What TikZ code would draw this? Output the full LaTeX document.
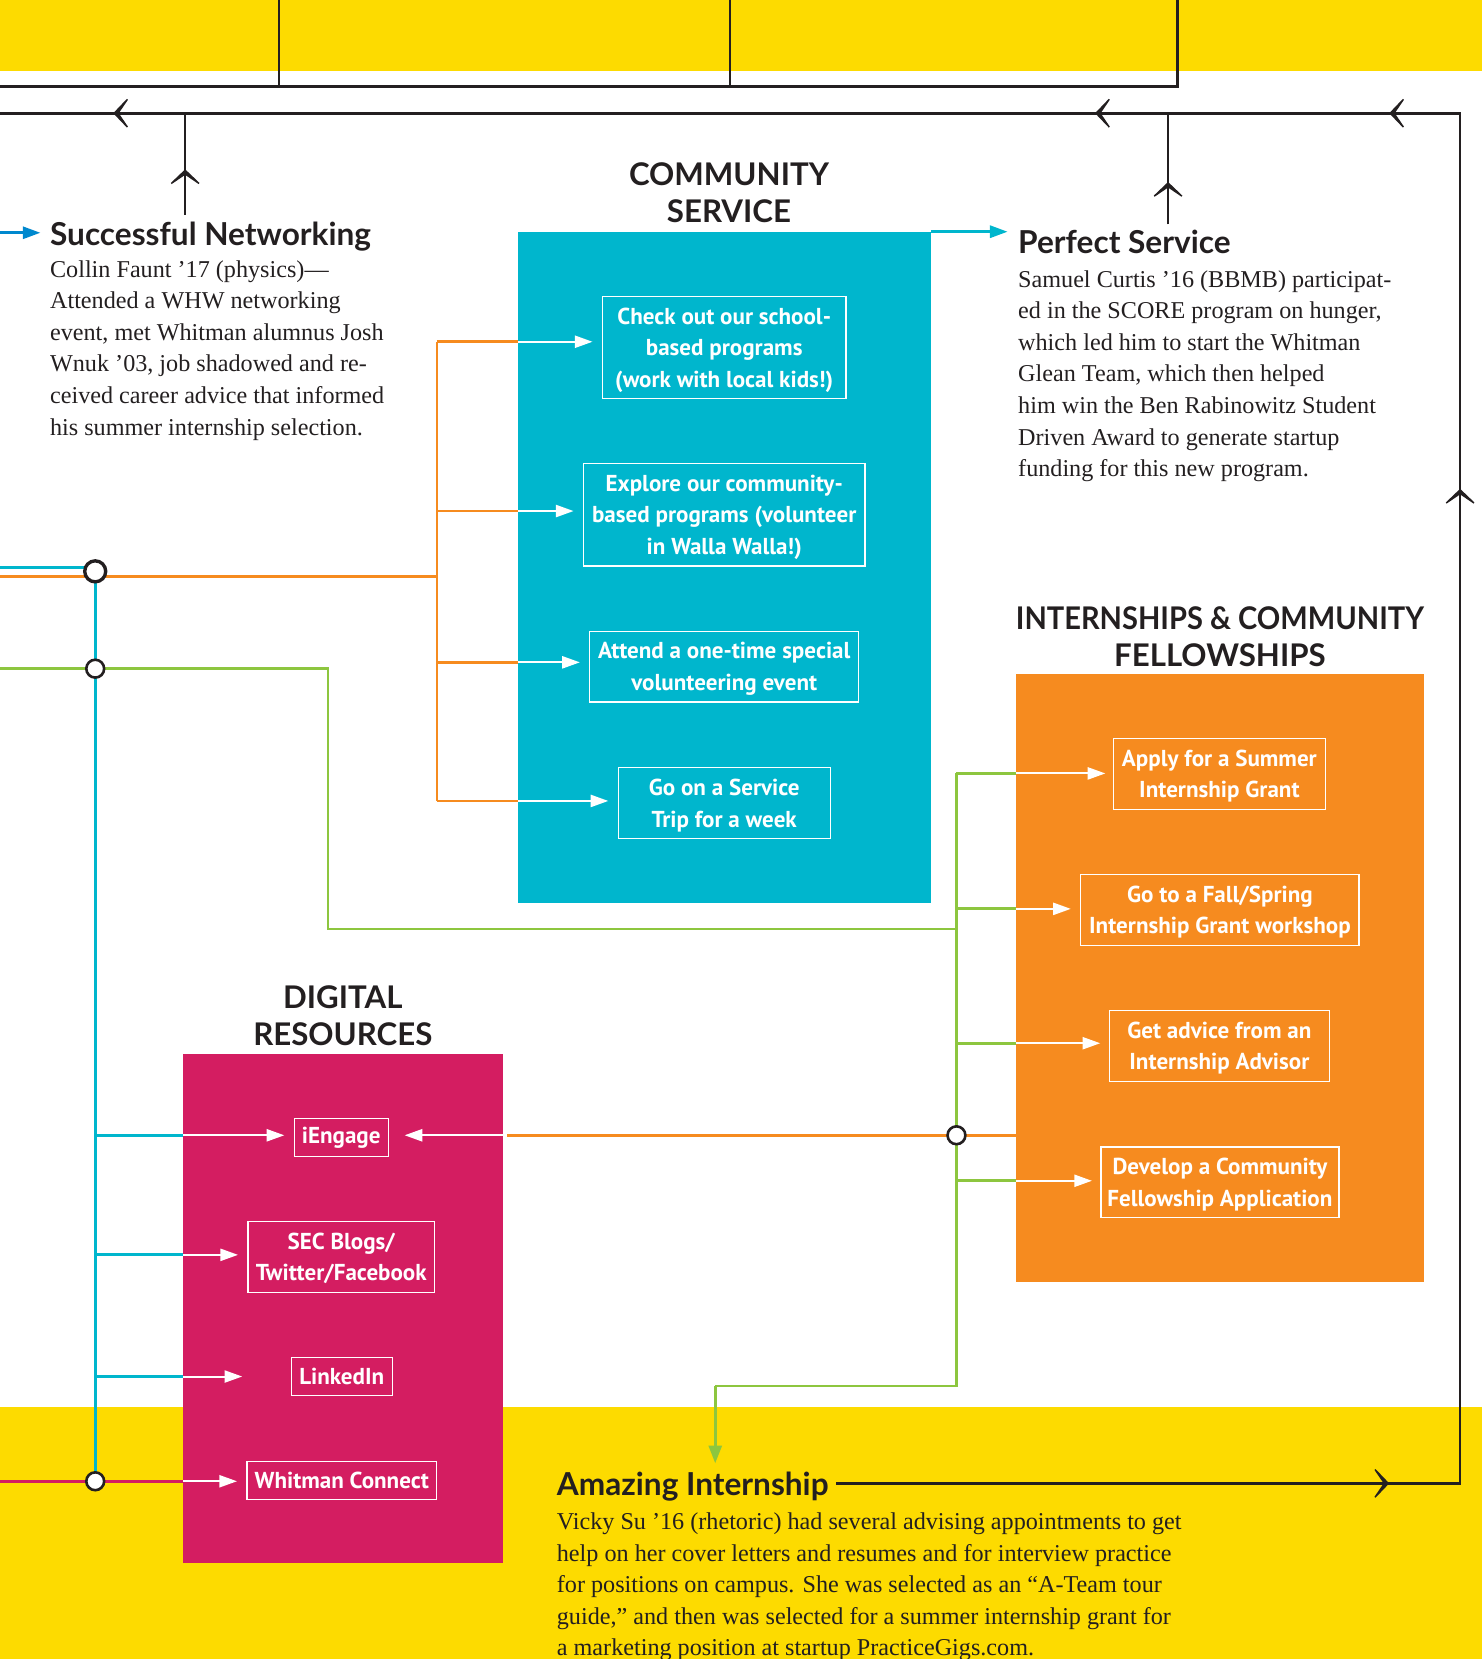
\documentclass[tikz,border=0pt]{standalone}
\usepackage{fontspec}
\usepackage{graphicx}
\setmainfont{Liberation Serif}
\newfontfamily\headsans{Lato}
\newfontfamily\itemsans{PT Sans}
\usetikzlibrary{arrows.meta,positioning}

\definecolor{ink}{HTML}{231F20}
\definecolor{sunny}{HTML}{FDDB00}
\definecolor{cservice}{HTML}{00B6CD}
\definecolor{intern}{HTML}{F68B1F}
\definecolor{digital}{HTML}{D41D61}
\definecolor{leaf}{HTML}{8DC63F}
\definecolor{netblue}{HTML}{0088CE}

\newcommand{\storyfont}{\fontsize{13pt}{17pt}\selectfont}
\newcommand{\storyheadfont}{\headsans\bfseries\fontsize{17pt}{20pt}\selectfont}
\newcommand{\panelheadfont}{\headsans\bfseries\fontsize{16.8pt}{19.8pt}\selectfont}
\newcommand{\itemfont}{\itemsans\bfseries\fontsize{12.4pt}{17pt}\selectfont}

\tikzset{
  item/.style     ={rectangle,draw=white,line width=0.7pt,text=white,font=\itemfont,
                    align=center,inner xsep=3pt,inner ysep=0pt},
  item1/.style    ={item,minimum height=20.4pt},
  item2/.style    ={item,minimum height=38pt,text depth=-1.9pt},
  item3/.style    ={item,minimum height=55pt,text depth=-1.9pt},
  panelhead/.style={font=\panelheadfont,align=center,text=ink},
  storyhead/.style={font=\storyheadfont,text=ink,anchor=base west,inner sep=0pt},
  story/.style    ={font=\storyfont,text=ink,align=left,anchor=base west,inner sep=0pt},
  warr/.style     ={white,line width=1.1pt,-{Triangle[length=9.5pt,width=6.5pt]},
                    shorten >=5pt}
}

\begin{document}
\begin{tikzpicture}[
  x=0.02cm, y=-0.02cm,
  flow/.style={line width=1.5pt},
  track/.style={ink,line width=1.4pt},
  chev/.style={ink,line width=1.4pt,-{Stealth[length=10.5pt,width=22pt,inset=7.5pt]}},
  junc/.style={circle,draw=ink,fill=white,line width=1.4pt,inner sep=0pt,
               minimum size=9.6pt}
]
  \useasboundingbox (0,0) rectangle (1401,1568);
  \clip (0,0) rectangle (1401,1568);

  % Bands and panels
  \fill[sunny] (0,0) rectangle (1401,67);
  \fill[sunny] (0,1330) rectangle (1401,1568);
  \fill[cservice] (490,219) rectangle (880,853);
  \fill[intern] (960,637) rectangle (1346,1212);
  \fill[digital] (173,996) rectangle (475,1477);

  % Panel headings
  \node[panelhead] (cs-head) at (689,182.5) {COMMUNITY\\SERVICE};
  \node[panelhead] (ic-head) at (1153,601.5) {\scalebox{0.93}[1]{INTERNSHIPS \& COMMUNITY}\\FELLOWSHIPS};
  \node[panelhead] (dr-head) at (324,960) {DIGITAL\\RESOURCES};

  % Community service options
  \node[item3,minimum width=131pt]   (cs1) at (684.5,328.5) {Check out our school-\\based programs\\(work with local kids!)};
  \node[item3,minimum width=151.4pt] (cs2) at (684.5,486.5) {Explore our community-\\based programs (volunteer\\in Walla Walla!)};
  \node[item2,minimum width=144.6pt] (cs3) at (684.5,630)   {Attend a one-time special\\volunteering event};
  \node[item2,minimum width=114pt]   (cs4) at (684.5,759)   {Go on a Service\\Trip for a week};

  % Internship options
  \node[item2,minimum width=114pt]   (ic1) at (1152.5,731.5) {Apply for a Summer\\Internship Grant};
  \node[item2,minimum width=149.7pt] (ic2) at (1153,860)     {Go to a Fall/Spring\\Internship Grant workshop};
  \node[item2,minimum width=118.5pt] (ic3) at (1152.5,988.5) {Get advice from an\\Internship Advisor};
  \node[item2,minimum width=128pt]   (ic4) at (1153,1117.5)  {Develop a Community\\Fellowship Application};

  % Digital resources
  \node[item1,minimum width=50.5pt]  (dr1) at (322.5,1075) {iEngage};
  \node[item2,minimum width=100.3pt] (dr2) at (322.5,1188) {SEC Blogs/\\Twitter/Facebook};
  \node[item1,minimum width=54.4pt]  (dr3) at (323,1301)   {LinkedIn};
  \node[item1,minimum width=102pt]   (dr4) at (323,1399)   {Whitman Connect};

  % Stories (anchored at the baseline of their last line)
  \node[storyhead] (sn) at (47,232) {Successful Networking};
  \node[story] (sn-text) at (47,411.2) {Collin Faunt ’17 (physics)—\\
    Attended a WHW networking\\event, met Whitman alumnus Josh\\
    Wnuk ’03, job shadowed and re-\\ceived career advice that informed\\
    his summer internship selection.};
  \node[storyhead] (ps) at (962,240) {Perfect Service};
  \node[story] (ps-text) at (962,450.6) {Samuel Curtis ’16 (BBMB) participat-\\
    ed in the SCORE program on hunger,\\which led him to start the Whitman\\
    Glean Team, which then helped\\him win the Ben Rabinowitz Student\\
    Driven Award to generate startup\\funding for this new program.};
  \node[storyhead] (ai) at (526,1413) {Amazing Internship};
  \node[story] (ai-text) at (526,1565) {Vicky Su ’16 (rhetoric) had several advising appointments to get\\
    help on her cover letters and resumes and for interview practice\\
    for positions on campus. She was selected as an “A-Team tour\\
    guide,” and then was selected for a summer internship grant for\\
    a marketing position at startup PracticeGigs.com.};

  % Junction points
  \coordinate (c-in) at (0,536);
  \coordinate (o-in) at (0,545);
  \coordinate (g-in) at (0,632);
  \coordinate (m-in) at (0,1400);
  \coordinate (j-top) at (90,540);
  \coordinate (j-green) at (90,632);
  \coordinate (j-bot) at (90,1400);
  \coordinate (j-orange) at (904,1073);
  \coordinate (o-top) at (413,323);
  \coordinate (o-bot) at (413,757);

  % Orange feed to community service
  \draw[flow,intern] (o-in) -- (o-in -| o-top);
  \draw[flow,intern] (o-top) -- (o-bot);
  \draw[flow,intern] (413,323) -- (490,323);
  \draw[flow,intern] (413,483) -- (490,483);
  \draw[flow,intern] (413,626) -- (490,626);
  \draw[flow,intern] (413,757) -- (490,757);
  \draw[warr] (490,323) -- (490,323 -| cs1.west);
  \draw[warr] (490,483) -- (490,483 -| cs2.west);
  \draw[warr] (490,626) -- (490,626 -| cs3.west);
  \draw[warr] (490,757) -- (490,757 -| cs4.west);

  % Cyan feed to digital resources
  \draw[flow,cservice] (c-in) -- (c-in -| j-top);
  \draw[flow,cservice] (j-top) -- (j-bot);
  \draw[flow,cservice] (90,1073) -- (173,1073);
  \draw[flow,cservice] (90,1186) -- (173,1186);
  \draw[flow,cservice] (90,1301) -- (173,1301);
  \draw[flow,digital] (m-in) -- (173,1400);
  \draw[warr] (173,1073) -- (173,1073 -| dr1.west);
  \draw[warr] (173,1186) -- (173,1186 -| dr2.west);
  \draw[warr,shorten >=26pt] (173,1301) -- (173,1301 -| dr3.west);
  \draw[warr] (173,1400) -- (173,1400 -| dr4.west);

  % Green feed to internships
  \draw[flow,leaf] (g-in) -- (310,632) -- (310,878) -- (904,878);
  \draw[flow,leaf] (904,731) -- (904,1310) -- (676,1310);
  \draw[flow,leaf,-{Triangle[length=9.5pt,width=7pt]}] (676,1310) -- (676,1383);
  \draw[flow,leaf] (904,731) -- (960,731);
  \draw[flow,leaf] (904,859) -- (960,859);
  \draw[flow,leaf] (904,986) -- (960,986);
  \draw[flow,leaf] (904,1116) -- (960,1116);
  \draw[warr,shorten >=4pt] (960,731) -- (960,731 -| ic1.west);
  \draw[warr] (960,859) -- (960,859 -| ic2.west);
  \draw[warr,shorten >=4.5pt] (960,986) -- (960,986 -| ic3.west);
  \draw[warr,shorten >=4.5pt] (960,1116) -- (960,1116 -| ic4.west);

  % Orange link back to iEngage
  \draw[flow,intern] (960,1073) -- (479,1073);
  \draw[warr,shorten >=8.5pt] (475,1073) -- (475,1073 -| dr1.east);

  % Story arrows
  \coordinate (sn-in) at (0,220);
  \coordinate (cs-ne) at (880,219);
  \draw[flow,netblue,-{Triangle[length=9.5pt,width=6.5pt]},shorten >=5pt] (sn-in) -- (sn-in -| sn.west);
  \draw[flow,cservice,-{Triangle[length=9.5pt,width=6.5pt]},shorten >=5.5pt] (cs-ne) -- (cs-ne -| ps.west);

  % Black return loop
  \coordinate (loop-br) at (1380,1402);
  \coordinate (loop-tr) at (1380,107);
  \coordinate (loop-tl) at (0,107);
  \draw[track] (ai.east |- loop-br) ++(7,0) -- (loop-br) -- (loop-tr) -- (loop-tl);
  \draw[track] (0,82) -- (1113,82) -- (1113,0);
  \draw[track,line width=1pt] (264,0) -- (264,82);
  \draw[track,line width=1pt] (690,0) -- (690,82);
  \draw[track] (175,203) -- (175,107);
  \draw[track] (1104,212) -- (1104,107);
  \draw[chev] (1296,1402) -- (1313,1402);
  \draw[chev] (1380,480) -- (1380,462);
  \draw[chev] (1330,107) -- (1313,107);
  \draw[chev] (1052,107) -- (1035,107);
  \draw[chev] (124,107) -- (107,107);
  \draw[chev] (175,178) -- (175,160);
  \draw[chev] (1104,190) -- (1104,172);

  % Junction circles
  \node[junc,minimum size=11.3pt,line width=1.8pt] (jt) at (j-top) {};
  \node[junc] (jg) at (j-green) {};
  \node[junc] (jb) at (j-bot) {};
  \node[junc] (jo) at (j-orange) {};
\end{tikzpicture}
\end{document}
